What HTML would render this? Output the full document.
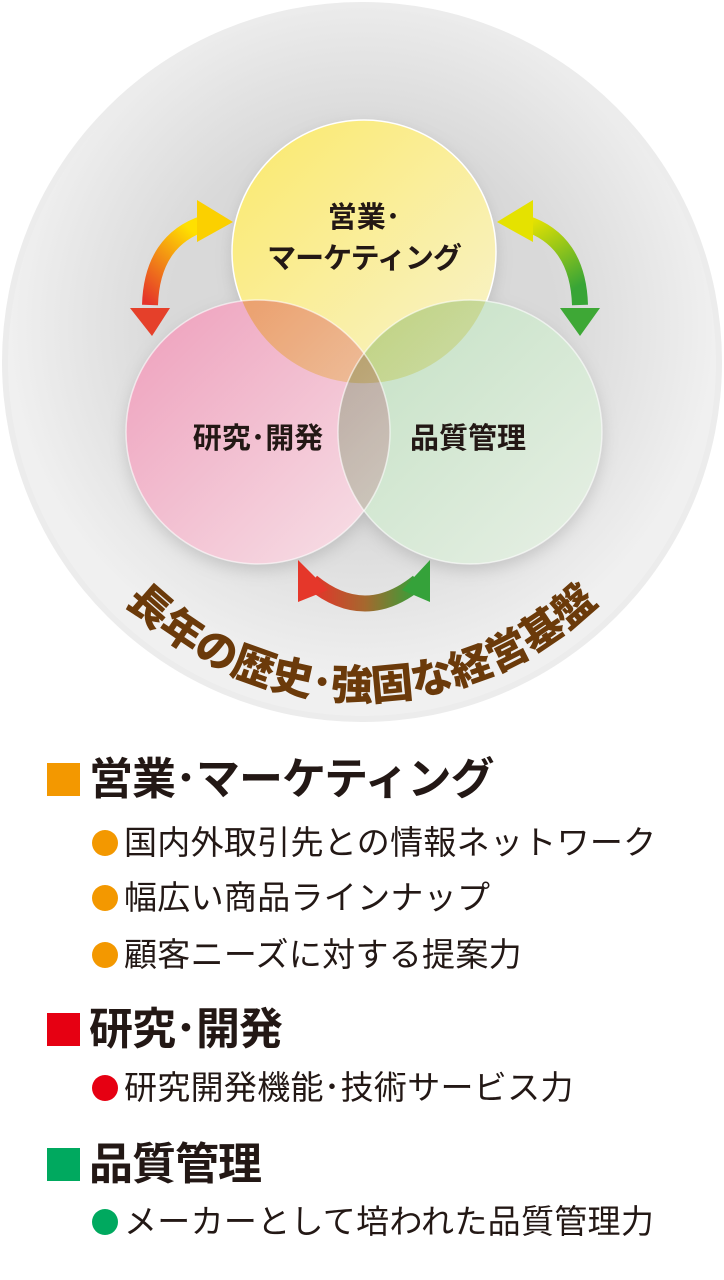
<!DOCTYPE html>
<html><head><meta charset="utf-8"><style>
body{margin:0;width:724px;height:1280px;background:#fff;overflow:hidden;font-family:"Liberation Sans","Noto Sans CJK JP",sans-serif;position:relative}
.h{position:absolute;left:47px;font-size:44px;font-weight:bold;color:#231815;line-height:46px;white-space:nowrap;letter-spacing:-1px}
.h i{display:inline-block;width:33px;height:33px;vertical-align:-2px;margin-right:9px}
.it{position:absolute;left:92px;font-size:33px;color:#231815;line-height:38px;white-space:nowrap;letter-spacing:0.3px}
.it b{display:inline-block;width:26px;height:26px;border-radius:50%;vertical-align:-2px;margin-right:6px}
</style></head><body>
<svg width="724" height="760" style="position:absolute;left:0;top:0">
<defs>
<radialGradient id="bg" cx="50%" cy="45%" r="50%"><stop offset="0.55" stop-color="#d9d9d9"/><stop offset="1" stop-color="#f0f0f0"/></radialGradient>
<linearGradient id="gy" x1="0" y1="0" x2="1" y2="1"><stop offset="0" stop-color="#fbe96a"/><stop offset="1" stop-color="#f8f3cf"/></linearGradient>
<linearGradient id="gp" x1="0" y1="0" x2="1" y2="1"><stop offset="0" stop-color="#ee9ebb"/><stop offset="1" stop-color="#f7e2e8"/></linearGradient>
<linearGradient id="gg" x1="0" y1="0" x2="1" y2="1"><stop offset="0" stop-color="#c2e0c2"/><stop offset="1" stop-color="#e8f0e6"/></linearGradient>
<linearGradient id="a1" x1="0" y1="1" x2="0.6" y2="0"><stop offset="0" stop-color="#e5342a"/><stop offset="1" stop-color="#ffe000"/></linearGradient>
<linearGradient id="a2" x1="0" y1="0" x2="0.4" y2="1"><stop offset="0" stop-color="#e8e300"/><stop offset="1" stop-color="#38a536"/></linearGradient>
<linearGradient id="a3" x1="0" y1="0" x2="1" y2="0"><stop offset="0" stop-color="#e5332a"/><stop offset="0.5" stop-color="#a5682e"/><stop offset="1" stop-color="#32a23a"/></linearGradient>
<filter id="sh"><feGaussianBlur stdDeviation="8"/></filter>
</defs>
<circle cx="362" cy="362" r="360" fill="#ececec"/>
<circle cx="362" cy="362" r="354" fill="url(#bg)"/>
<g filter="url(#sh)" opacity="0.35"><circle cx="364" cy="258" r="132" fill="#888"/><circle cx="258" cy="438" r="132" fill="#888"/><circle cx="470" cy="438" r="132" fill="#888"/></g>
<g style="isolation:isolate">
<circle cx="364" cy="252" r="132" fill="url(#gy)" stroke="#fff" stroke-width="1.5"/>
<circle cx="258" cy="432" r="132" fill="url(#gp)" style="mix-blend-mode:multiply"/>
<circle cx="470" cy="432" r="132" fill="url(#gg)" style="mix-blend-mode:multiply"/>
</g>
<circle cx="258" cy="432" r="132" fill="none" stroke="#fff" stroke-width="1.5" opacity="0.6"/>
<circle cx="470" cy="432" r="132" fill="none" stroke="#fff" stroke-width="1.5" opacity="0.6"/>
<path d="M205,223 Q152,240 150,305" fill="none" stroke="url(#a1)" stroke-width="16"/>
<polygon points="197,200 233,222 197,242" fill="#fbd000"/>
<polygon points="130,308 170,308 152,336" fill="#e5402a"/>
<path d="M525,223 Q578,240 580,305" fill="none" stroke="url(#a2)" stroke-width="16"/>
<polygon points="533,200 497,222 533,242" fill="#e5e200"/>
<polygon points="560,308 600,308 580,336" fill="#3ea836"/>
<path d="M312,582 Q365,625 418,582" fill="none" stroke="url(#a3)" stroke-width="16"/>
<polygon points="298,560 298,602 328,590" fill="#e5372a"/>
<polygon points="430,560 430,602 402,590" fill="#35a23a"/>
<g font-family="'Liberation Sans','Noto Sans CJK JP',sans-serif" font-weight="bold" fill="#231815" font-size="29" text-anchor="middle">
<text x="364" y="227">営業･</text><text x="364" y="268" letter-spacing="-1">マーケティング</text>
<text x="258" y="448">研究･開発</text><text x="468" y="448">品質管理</text>
</g>
<path id="arc" d="M25,363 A337,337 0 0 0 699,363" fill="none"/>
<text font-family="'Liberation Sans','Noto Sans CJK JP',sans-serif" font-weight="900" font-size="42" fill="#6b3a0a"><textPath href="#arc" startOffset="50%" text-anchor="middle">長年の歴史･強固な経営基盤</textPath></text>
</svg>
<div class="h" style="top:757px"><i style="background:#f39800"></i>営業･マーケティング</div>
<div class="it" style="top:824px"><b style="background:#f39800"></b>国内外取引先との情報ネットワーク</div>
<div class="it" style="top:879px"><b style="background:#f39800"></b>幅広い商品ラインナップ</div>
<div class="it" style="top:936px"><b style="background:#f39800"></b>顧客ニーズに対する提案力</div>
<div class="h" style="top:1007px"><i style="background:#e60012"></i>研究･開発</div>
<div class="it" style="top:1069px"><b style="background:#e60012"></b>研究開発機能･技術サービス力</div>
<div class="h" style="top:1142px"><i style="background:#00a95f"></i>品質管理</div>
<div class="it" style="top:1203px"><b style="background:#00a95f"></b>メーカーとして培われた品質管理力</div>
</body></html>
